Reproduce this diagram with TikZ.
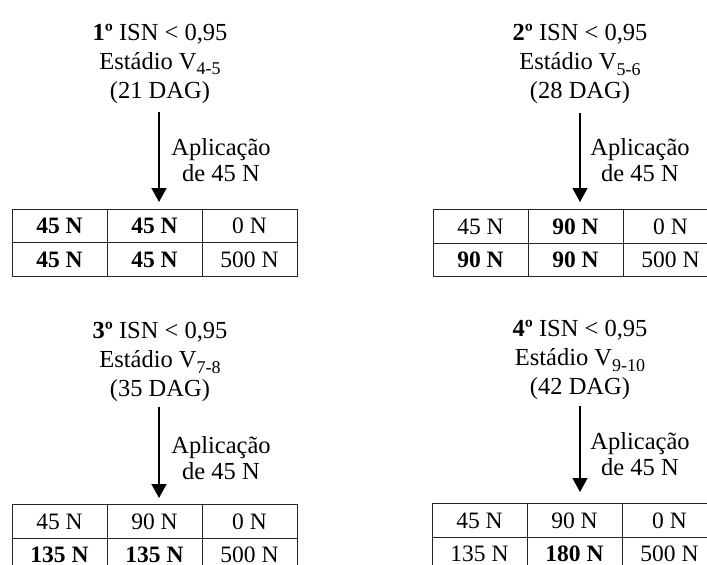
\documentclass[tikz,border=0pt]{standalone}
\usepackage{fontspec}
\setmainfont{Liberation Serif}
\usetikzlibrary{arrows.meta}
\newcommand\mysubs[1]{\raisebox{-0.24em}{\fontsize{18}{18}\selectfont #1}}
\begin{document}
\begin{tikzpicture}[x=1pt,y=-1pt,
 title/.style={align=center, font=\fontsize{24.5}{29}\selectfont, inner sep=0},
 app/.style={align=center, font=\fontsize{24.5}{26.5}\selectfont, inner sep=0},
 cell/.style={draw=black!85, line width=0.9pt, minimum width=95pt, minimum height=33.5pt, inner sep=0, font=\fontsize{23.5}{28}\selectfont},
 arr/.style={line width=1.4pt, -{Triangle[width=15pt,length=14pt]}}]
\useasboundingbox (0,0) rectangle (707,565);
\clip (0,0) rectangle (707,565);
% ---------- panel 1
\node[title] (t1) at (160,63.5) {\textbf{1º} ISN < 0,95\\Estádio V\mysubs{4-5}\\(21 DAG)};
\coordinate (a1s) at (159,112);
\coordinate (a1e) at (159,202);
\draw[arr] (a1s) -- (a1e);
\node[app] (p1) at (221,160) {Aplicação\\de 45 N};
\node[cell] (c1a) at (59.5,226) {\textbf{45 N}};
\node[cell] (c1b) at (154.5,226) {\textbf{45 N}};
\node[cell] (c1c) at (249.5,226) {0 N};
\node[cell] (c1d) at (59.5,259.5) {\textbf{45 N}};
\node[cell] (c1e) at (154.5,259.5) {\textbf{45 N}};
\node[cell] (c1f) at (249.5,259.5) {500 N};
% ---------- panel 2
\node[title] (t2) at (580,64) {\textbf{2º} ISN < 0,95\\Estádio V\mysubs{5-6}\\(28 DAG)};
\coordinate (a2s) at (580,113);
\coordinate (a2e) at (580,202);
\draw[arr] (a2s) -- (a2e);
\node[app] (p2) at (640,160) {Aplicação\\de 45 N};
\node[cell] (c2a) at (480.5,226.5) {45 N};
\node[cell] (c2b) at (575.5,226.5) {\textbf{90 N}};
\node[cell] (c2c) at (670.5,226.5) {0 N};
\node[cell] (c2d) at (480.5,260) {\textbf{90 N}};
\node[cell] (c2e) at (575.5,260) {\textbf{90 N}};
\node[cell] (c2f) at (670.5,260) {500 N};
% ---------- panel 3
\node[title] (t3) at (160,362) {\textbf{3º} ISN < 0,95\\Estádio V\mysubs{7-8}\\(35 DAG)};
\coordinate (a3s) at (159,407);
\coordinate (a3e) at (159,498);
\draw[arr] (a3s) -- (a3e);
\node[app] (p3) at (221,458) {Aplicação\\de 45 N};
\node[cell] (c3a) at (59.5,521.5) {45 N};
\node[cell] (c3b) at (154.5,521.5) {90 N};
\node[cell] (c3c) at (249.5,521.5) {0 N};
\node[cell] (c3d) at (59.5,555) {\textbf{135 N}};
\node[cell] (c3e) at (154.5,555) {\textbf{135 N}};
\node[cell] (c3f) at (249.5,555) {500 N};
% ---------- panel 4
\node[title] (t4) at (580,360) {\textbf{4º} ISN < 0,95\\Estádio V\mysubs{9-10}\\(42 DAG)};
\coordinate (a4s) at (580,406);
\coordinate (a4e) at (580,492);
\draw[arr] (a4s) -- (a4e);
\node[app] (p4) at (640,454) {Aplicação\\de 45 N};
\node[cell] (c4a) at (479.5,520.5) {45 N};
\node[cell] (c4b) at (574.5,520.5) {90 N};
\node[cell] (c4c) at (669.5,520.5) {0 N};
\node[cell] (c4d) at (479.5,554) {135 N};
\node[cell] (c4e) at (574.5,554) {\textbf{180 N}};
\node[cell] (c4f) at (669.5,554) {500 N};
\end{tikzpicture}
\end{document}
